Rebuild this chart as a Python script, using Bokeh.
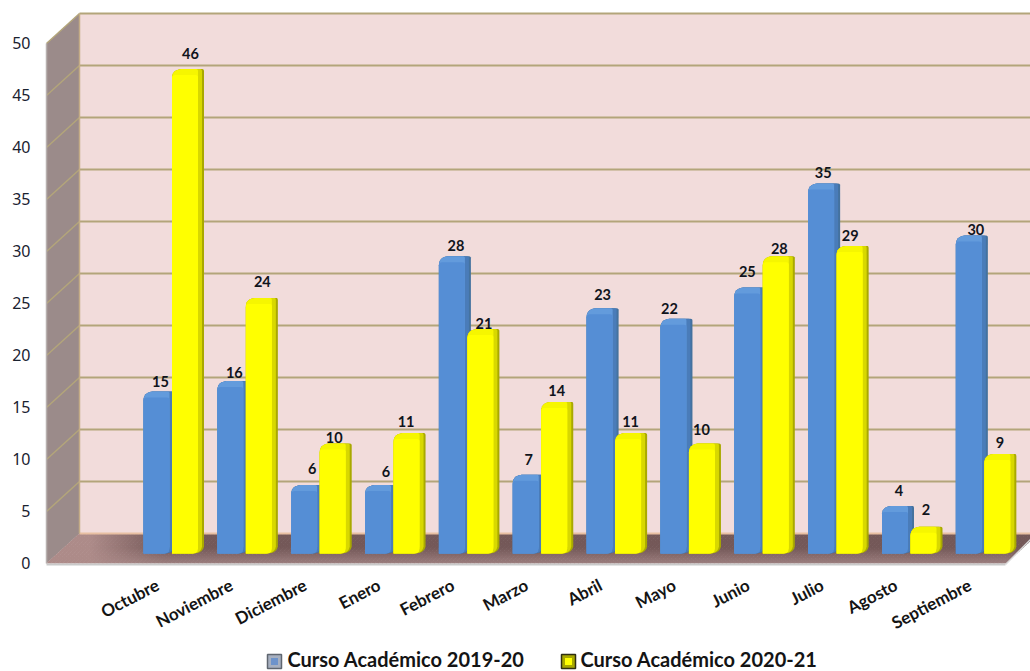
from bokeh.core.properties import value
from bokeh.embed import file_html
from bokeh.models import ColumnDataSource, FixedTicker, LinearAxis, Range1d
from bokeh.plotting import figure
from bokeh.resources import INLINE

# Monthly counts per academic year
meses = ["Octubre", "Noviembre", "Diciembre", "Enero", "Febrero", "Marzo",
         "Abril", "Mayo", "Junio", "Julio", "Agosto", "Septiembre"]
curso_2019_20 = [15, 16, 6, 6, 28, 7, 23, 22, 25, 35, 4, 30]
curso_2020_21 = [46, 24, 10, 11, 21, 14, 11, 10, 28, 29, 2, 9]
y_ticks = [0, 5, 10, 15, 20, 25, 30, 35, 40, 45, 50]
nombres_series = ["Curso Académico 2019-20", "Curso Académico 2020-21"]

# Scene geometry, in screen pixels
W, H = 1030, 671
LEFT = 40
X0, DX = 173.0, 73.85       # first month centre, month spacing
BASE, PX_PER_UNIT = 553.0, 10.4  # bar plane zero line, pixels per unit
FRONT_Y, BACK_Y = 563.0, 533.0
FRONT_X, BACK_X = 46.0, 79.0
FLOOR_RIGHT = 1005.0


def xd(px):
    return (px - X0) / DX


def yd(py):
    return (BASE - py) / PX_PER_UNIT


p = figure(width=W, height=H, output_backend="svg", toolbar_location=None,
           x_range=Range1d(xd(LEFT), xd(W)), y_range=Range1d(yd(H), yd(0)),
           x_axis_location=None, y_axis_location=None,
           min_border_left=LEFT, min_border_right=0, min_border_top=0, min_border_bottom=0,
           outline_line_color=None, background_fill_color="white", border_fill_color="white")
p.grid.visible = False

# Value axis, labelled along the front edge of the side wall
p.extra_y_ranges = {"frente": Range1d((562 - H) / PX_PER_UNIT, 562 / PX_PER_UNIT)}
eje = LinearAxis(y_range_name="frente", ticker=FixedTicker(ticks=y_ticks),
                 axis_line_color=None, major_tick_line_color=None, minor_tick_line_color=None,
                 major_label_standoff=4, major_label_text_font="Noto Sans",
                 major_label_text_font_size="16px", major_label_text_color="#1a2230")
p.add_layout(eje, "left")

GRID = "#b3a57a"
TAN = "#c4ac86"


def lerp_color(a, b, t):
    ca = [int(a[i:i + 2], 16) for i in (1, 3, 5)]
    cb = [int(b[i:i + 2], 16) for i in (1, 3, 5)]
    return "#%02x%02x%02x" % tuple(round(u + (v - u) * t) for u, v in zip(ca, cb))


# Back wall and side wall
top_back, top_front = BACK_Y - 50 * PX_PER_UNIT, FRONT_Y - 50 * PX_PER_UNIT
p.patch([xd(BACK_X), xd(W + 10), xd(W + 10), xd(BACK_X)],
        [yd(top_back), yd(top_back), yd(BACK_Y), yd(BACK_Y)],
        fill_color="#f2dcdb", line_color=None)
p.patch([xd(FRONT_X), xd(BACK_X), xd(BACK_X), xd(FRONT_X)],
        [yd(top_front), yd(top_back), yd(BACK_Y), yd(FRONT_Y)],
        fill_color="#9b8b8a", line_color=None)

# Floor, shaded in small cells so it darkens away from the left corner
xs, ys, colors = [], [], []
n_t, n_x = 15, 240
span = FLOOR_RIGHT - FRONT_X
for it in range(n_t):
    t0, t1 = it / n_t, (it + 1) / n_t
    depth_col = lerp_color("#9b7e7e", "#745858", min(1.0, ((it + 0.5) / n_t) * 1.9))
    for ix in range(n_x):
        f0, f1 = ix / n_x, (ix + 1) / n_x
        ya, yb = FRONT_Y - 30 * t0, FRONT_Y - 30 * t1
        xa0, xa1 = FRONT_X + 33 * t0 + span * f0, FRONT_X + 33 * t0 + span * f1
        xb0, xb1 = FRONT_X + 33 * t1 + span * f0, FRONT_X + 33 * t1 + span * f1
        w = max(0.0, min(1.0, (165 - (xa0 + xb1) / 2) / 75))
        xs.append([xd(xa0), xd(xa1 + 0.6), xd(xb1 + 0.6), xd(xb0)])
        ys.append([yd(ya), yd(ya), yd(yb - 0.6), yd(yb - 0.6)])
        colors.append(lerp_color(depth_col, "#ad8b89", w))
p.patches(xs, ys, fill_color=colors, line_color=None)

# Gridlines across the back wall and down the side wall
for v in y_ticks[1:]:
    yb, yf = BACK_Y - v * PX_PER_UNIT, FRONT_Y - v * PX_PER_UNIT
    p.line([xd(BACK_X), xd(W)], [yd(yb), yd(yb)], line_color=GRID, line_width=2)
    p.line([xd(FRONT_X), xd(BACK_X)], [yd(yf), yd(yb)], line_color=GRID, line_width=1.5)

# Wall edges
p.line([xd(BACK_X), xd(W)], [yd(BACK_Y), yd(BACK_Y)], line_color="#e8bfa2", line_width=2)
p.line([xd(BACK_X), xd(BACK_X)], [yd(top_back), yd(BACK_Y)], line_color=TAN, line_width=1.5)
p.line([xd(FRONT_X), xd(FRONT_X)], [yd(top_front), yd(FRONT_Y)], line_color="#b7b0ae", line_width=1.5)
p.line([xd(FRONT_X), xd(FLOOR_RIGHT)], [yd(FRONT_Y + 1), yd(FRONT_Y + 1)], line_color="#c9c9c9", line_width=2)
p.line([xd(FLOOR_RIGHT), xd(W)], [yd(FRONT_Y + 1), yd(FRONT_Y - 24)], line_color="#d8d8d8", line_width=1.5)

# Bars: rounded outlines stacked from the shaded side up to the front face
BAR_W = 26
BAR_D = 6


def curva(p0, c, p1, n=5):
    """Points along a quadratic corner in pixels, x to the right and y upwards."""
    return [((1 - k) ** 2 * p0[0] + 2 * k * (1 - k) * c[0] + k ** 2 * p1[0],
             (1 - k) ** 2 * p0[1] + 2 * k * (1 - k) * c[1] + k ** 2 * p1[1])
            for k in (j / n for j in range(n + 1))]


def silueta(i, val, x_off, depth):
    """Outline of the bar for month i, side and top pushed back by the given depth."""
    h = val * PX_PER_UNIT + BAR_D       # height of the rear top edge above the base
    r = BAR_W + depth                   # right edge
    low = min(7, h - 3)                 # start of the side above the base
    pts = curva((BAR_W - 6, 0), (r - 1, 0), (r, low))
    pts += curva((r, h - 2), (r, h), (r - 2, h), 3)
    pts += curva((BAR_D + 3, h), (0, h - 1), (0, h - BAR_D - 3), 6)
    pts.insert(0, (0, 0))
    return ([i + (x_off + a) / DX for a, _ in pts], [b / PX_PER_UNIT for _, b in pts])


def cara(i, val, x_off):
    """Front face of the bar, lightly rounded at its lower right corner."""
    h = val * PX_PER_UNIT
    pts = [(0, 0)] + curva((BAR_W - 5, 0), (BAR_W, 0), (BAR_W, 5), 3)
    pts += curva((BAR_W, h - 2), (BAR_W, h), (BAR_W - 3, h), 3)
    pts += curva((3, h), (0, h), (0, h - 3), 3)
    return ([i + (x_off + a) / DX for a, _ in pts], [b / PX_PER_UNIT for _, b in pts])


def barras(valores, x_off, c_borde, c_lado, c_tapa, c_cara):
    n = range(len(valores))
    for depth, color in ((BAR_D, c_borde), (BAR_D - 2, c_lado), (0, c_tapa)):
        shapes = [silueta(i, valores[i], x_off, depth) for i in n]
        p.patches([s[0] for s in shapes], [s[1] for s in shapes],
                  fill_color=color, line_color=None)
    shapes = [cara(i, valores[i], x_off) for i in n]
    p.patches([s[0] for s in shapes], [s[1] for s in shapes],
              fill_color=c_cara, line_color=None)


OFF_A, OFF_B = -30.0, -1.5
barras(curso_2019_20, OFF_A, "#44729f", "#4a7cb9", "#639bdc", "#558ed5")
barras(curso_2020_21, OFF_B, "#a9a900", "#d8d800", "#f6f600", "#ffff00")

# Value labels, each nudged clear of its bar
off_a_x = [-13, -13, -9, -9, -13, -14, -14, -21, -17, -15, -13, -10]
off_a_y = [16, 15, 23, 20, 17, 21, 20, 16, 22, 17, 21, 12]
off_b_x = [17, 15, 13, 11, 15, 14, 14, 11, 15, 12, 14, 14]
off_b_y = [22, 22, 12, 18, 12, 17, 18, 20, 14, 16, 23, 17]
for vals, ox, oy in ((curso_2019_20, off_a_x, off_a_y), (curso_2020_21, off_b_x, off_b_y)):
    src = ColumnDataSource(dict(x=list(range(12)), y=vals, t=[str(v) for v in vals], ox=ox,
                                oy=[-o for o in oy]))
    p.text("x", "y", text="t", x_offset="ox", y_offset="oy", source=src,
           text_font=value("Lato"), text_font_style="bold", text_font_size="14.5px",
           text_color="#10141c", text_align="center", text_baseline="middle")

# Month labels, slanted and ending just under each group
src = ColumnDataSource(dict(x=list(range(12)), y=[yd(583)] * 12, t=meses))
p.text("x", "y", text="t", x_offset=-16, source=src, angle=0.48,
       text_font=value("Lato"), text_font_style="bold", text_font_size="17px",
       text_color="#141414", text_align="right", text_baseline="middle")

# Legend
for nombre, sx, tx, borde, fondo, centro in (
        (nombres_series[0], 274, 287, "#5f6670", "#a7b0c0", "#6d93cb"),
        (nombres_series[1], 568, 580, "#2e2e10", "#a8a800", "#ffff00")):
    p.scatter([xd(sx)], [yd(661)], marker="square", size=14, fill_color=fondo,
              line_color=borde, line_width=1.5)
    p.scatter([xd(sx)], [yd(661)], marker="square", size=7, fill_color=centro, line_color=None)
    p.text([xd(tx)], [yd(658.5)], text=[nombre], text_font=value("Lato"),
           text_font_style="bold", text_font_size="20px", text_color="#141414",
           text_align="left", text_baseline="middle")

open("out.html", "w").write(file_html(p, INLINE))
